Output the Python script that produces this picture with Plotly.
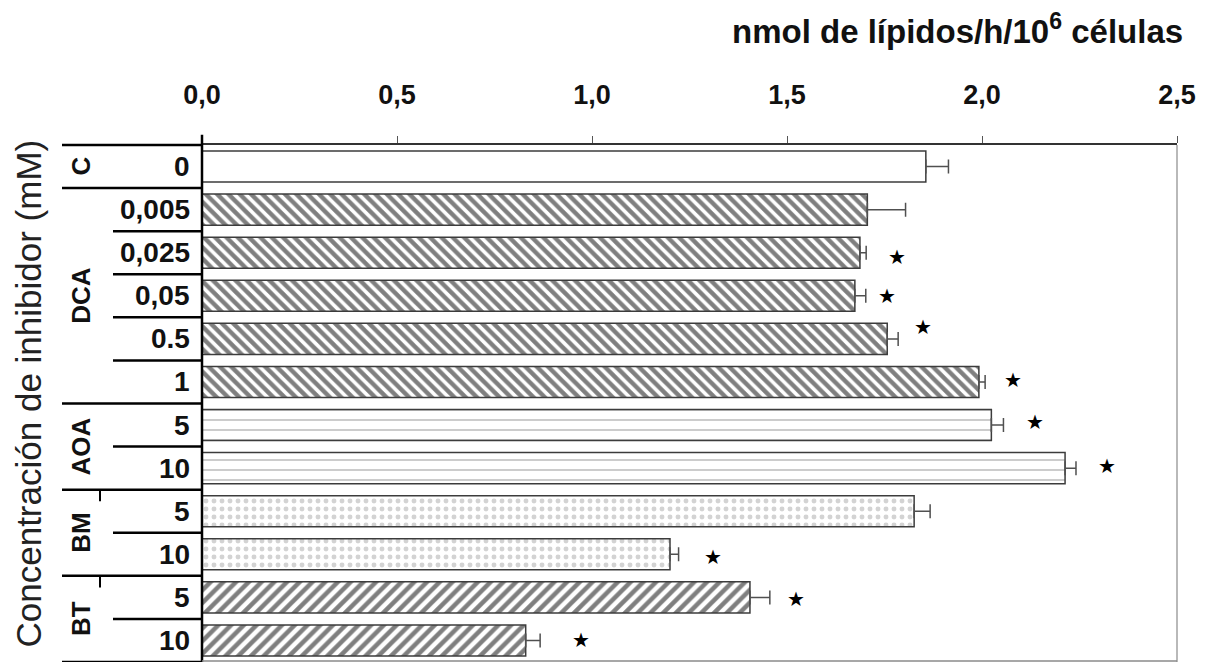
import plotly.graph_objects as go

# ---------------- data ----------------
groups = ["C", "DCA", "DCA", "DCA", "DCA", "DCA", "AOA", "AOA", "BM", "BM", "BT", "BT"]
concentrations = ["0", "0,005", "0,025", "0,05", "0.5", "1", "5", "10", "5", "10", "5", "10"]
values = [1.856, 1.706, 1.687, 1.674, 1.757, 1.992, 2.024, 2.213, 1.826, 1.200, 1.405, 0.830]
errors = [0.058, 0.098, 0.016, 0.028, 0.028, 0.016, 0.031, 0.028, 0.041, 0.022, 0.051, 0.037]
significant = [False, False, True, True, True, True, True, True, False, True, True, True]
star_x = [None, None, 1.782, 1.756, 1.848, 2.079, 2.136, 2.320, None, 1.309, 1.523, 0.972]
tick_values = [0.0, 0.5, 1.0, 1.5, 2.0, 2.5]
tick_labels = ["0,0", "0,5", "1,0", "1,5", "2,0", "2,5"]
group_order = ["C", "DCA", "AOA", "BM", "BT"]

x_title = "nmol de lípidos/h/10<sup>6</sup> células"
y_title = "Concentración de inhibidor (mM)"

# ---------------- styles ----------------
FONT = "Liberation Sans, Arial, sans-serif"
patterns = {
    "C": dict(shape="", fgcolor="black", bgcolor="white"),
    "DCA": dict(shape="\\", fgcolor="black", bgcolor="white", size=8, solidity=0.55),
    "AOA": dict(shape="-", fgcolor="#9a9a9a", bgcolor="white", size=10, solidity=0.2),
    "BM": dict(shape=".", fgcolor="#a8a8a8", bgcolor="white", size=8, solidity=0.3),
    "BT": dict(shape="/", fgcolor="black", bgcolor="white", size=9, solidity=0.5),
}
star_yshift = [0, 0, -4, 0, 12, 2, 3, 2, 0, -3, -2, 0]

n = len(values)


def py(b):
    """row boundary (data units) -> paper fraction"""
    return 1 - (b + 0.5) / n


fig = go.Figure()
rows = list(range(n))
for g in group_order:
    idx = [i for i in rows if groups[i] == g]
    fig.add_trace(go.Bar(
        orientation="h",
        y=idx,
        x=[values[i] for i in idx],
        width=0.72,
        marker=dict(color="white", line=dict(color="#3c3c3c", width=1.5),
                    pattern=patterns[g]),
        error_x=dict(type="data", symmetric=False,
                     array=[errors[i] for i in idx],
                     arrayminus=[0] * len(idx),
                     color="#505050", thickness=1.5, width=7),
        showlegend=False,
        hoverinfo="skip",
    ))

annotations = []
shapes = []

# stars
for i in rows:
    if significant[i]:
        annotations.append(dict(x=star_x[i], y=i, xref="x", yref="y", text="★",
                                showarrow=False, yshift=star_yshift[i],
                                font=dict(family="DejaVu Sans", size=20, color="black")))

# concentration labels
for i in rows:
    annotations.append(dict(x=0, y=i, xref="x", yref="y", text=concentrations[i],
                            xanchor="right", yanchor="middle", xshift=-10, showarrow=False,
                            font=dict(family=FONT, size=28, color="#111", weight="bold")))

LINE = dict(color="black", width=2.5)
# group labels and separators
for g in group_order:
    idx = [i for i in rows if groups[i] == g]
    centre = (idx[0] + idx[-1]) / 2
    annotations.append(dict(x=0, y=centre, xref="x", yref="y", text=g, textangle=-90,
                            xanchor="center", yanchor="middle", xshift=-121, showarrow=False,
                            font=dict(family=FONT, size=26, color="#111", weight="bold")))
    shapes.append(dict(type="line", xref="paper", yref="paper", xsizemode="pixel", xanchor=0,
                       x0=-140, x1=0, y0=py(idx[0] - 0.5), y1=py(idx[0] - 0.5), line=LINE))
    for k in idx[1:]:
        shapes.append(dict(type="line", xref="paper", yref="paper", xsizemode="pixel", xanchor=0,
                           x0=-89, x1=0, y0=py(k - 0.5), y1=py(k - 0.5), line=LINE))
shapes.append(dict(type="line", xref="paper", yref="paper", xsizemode="pixel", xanchor=0,
                   x0=-140, x1=0, y0=py(n - 0.5), y1=py(n - 0.5), line=LINE))
# small column dividers
for b in [7.5, 9.5]:
    shapes.append(dict(type="line", xref="paper", yref="paper", xsizemode="pixel", xanchor=0,
                       x0=-102, x1=-102, y0=py(b), y1=py(b + 0.27),
                       line=dict(color="black", width=2)))
# left vertical axis line
shapes.append(dict(type="line", xref="paper", yref="paper", x0=0, x1=0, y0=0, y1=1.02,
                   line=LINE))
# right and bottom frame lines
shapes.append(dict(type="line", xref="paper", yref="paper", x0=1, x1=1, y0=0, y1=1,
                   line=dict(color="#8a8a8a", width=1.2)))
shapes.append(dict(type="line", xref="paper", yref="paper", x0=0, x1=1, y0=0.002, y1=0.002,
                   line=dict(color="#8a8a8a", width=1.5)))

# axis titles
annotations.append(dict(x=1.008, y=1, xref="paper", yref="paper", text=x_title,
                        xanchor="right", yanchor="middle", yshift=116, showarrow=False,
                        font=dict(family=FONT, size=33, color="#111", weight="bold")))
annotations.append(dict(x=0, y=0.5, xref="paper", yref="paper", text=y_title, textangle=-90,
                        xanchor="center", yanchor="middle", xshift=-174, yshift=10,
                        showarrow=False,
                        font=dict(family=FONT, size=35, color="#222")))

# the page body has an 8 px margin: size the figure so that the page does not overflow
fig.update_layout(
    width=1190, height=654,
    margin=dict(l=194, r=21, t=137, b=0),
    plot_bgcolor="white", paper_bgcolor="white",
    barmode="overlay",
    xaxis=dict(side="top", range=[0, 2.5], tickvals=tick_values, ticktext=tick_labels,
               showgrid=False, zeroline=False, showline=True, linecolor="#333", linewidth=1.5,
               ticks="outside", ticklen=7, tickcolor="#555", tickwidth=1.2,
               ticklabelstandoff=21,
               tickfont=dict(family=FONT, size=27, color="#111", weight="bold")),
    yaxis=dict(range=[n - 0.5, -0.5], showticklabels=False, showgrid=False,
               zeroline=False, showline=False, ticks=""),
    annotations=annotations,
    shapes=shapes,
)

fig.write_html("out.html")
